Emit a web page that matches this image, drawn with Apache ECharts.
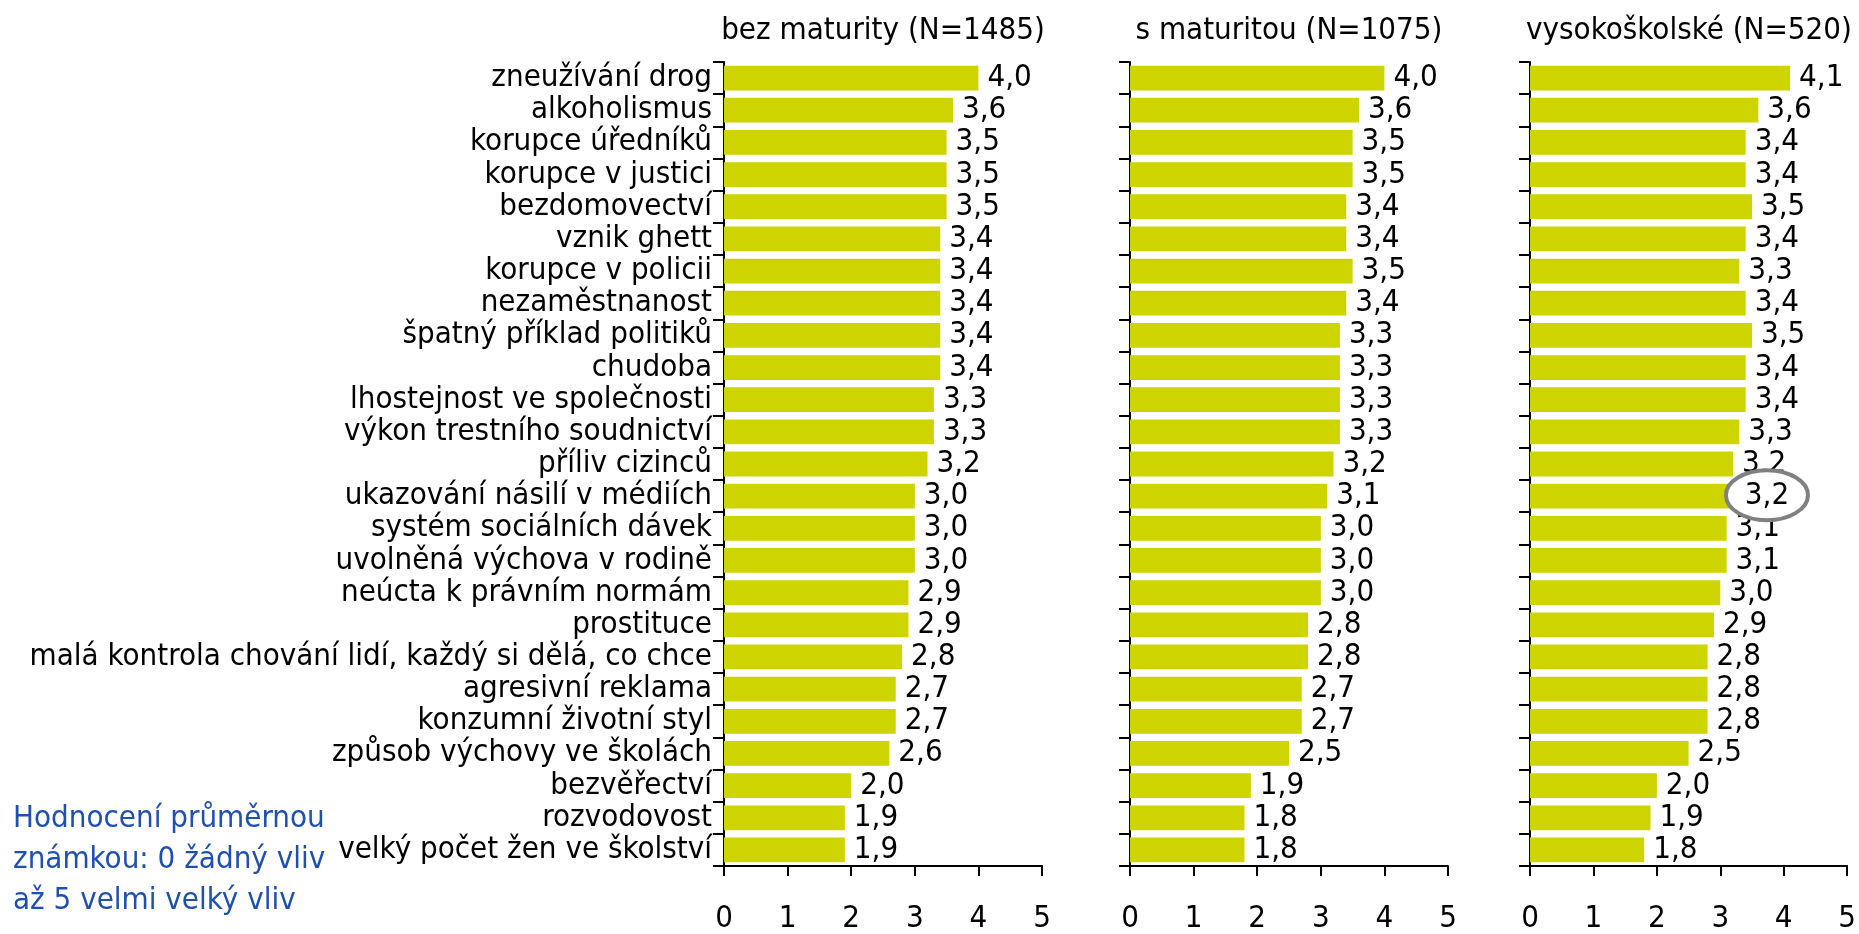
<!DOCTYPE html>
<html>
<head>
<meta charset="utf-8">
<script src="https://cdn.jsdelivr.net/npm/echarts@6/dist/echarts.min.js"></script>
<style>
html, body { margin: 0; padding: 0; background: #fff; }
#chart { width: 1859px; height: 934px; }
</style>
</head>
<body>
<div id="chart"></div>
<script>
// kategorie (shora dolu)
var categories = [
    'zneužívání drog', 'alkoholismus', 'korupce úředníků', 'korupce v justici',
    'bezdomovectví', 'vznik ghett', 'korupce v policii', 'nezaměstnanost',
    'špatný příklad politiků', 'chudoba', 'lhostejnost ve společnosti',
    'výkon trestního soudnictví', 'příliv cizinců', 'ukazování násilí v médiích',
    'systém sociálních dávek', 'uvolněná výchova v rodině', 'neúcta k právním normám',
    'prostituce', 'malá kontrola chování lidí, každý si dělá, co chce',
    'agresivní reklama', 'konzumní životní styl', 'způsob výchovy ve školách',
    'bezvěřectví', 'rozvodovost', 'velký počet žen ve školství'
];
var bezMaturity = [4.0, 3.6, 3.5, 3.5, 3.5, 3.4, 3.4, 3.4, 3.4, 3.4, 3.3, 3.3, 3.2,
    3.0, 3.0, 3.0, 2.9, 2.9, 2.8, 2.7, 2.7, 2.6, 2.0, 1.9, 1.9];
var sMaturitou = [4.0, 3.6, 3.5, 3.5, 3.4, 3.4, 3.5, 3.4, 3.3, 3.3, 3.3, 3.3, 3.2,
    3.1, 3.0, 3.0, 3.0, 2.8, 2.8, 2.7, 2.7, 2.5, 1.9, 1.8, 1.8];
var vysokoskolske = [4.1, 3.6, 3.4, 3.4, 3.5, 3.4, 3.3, 3.4, 3.5, 3.4, 3.4, 3.3, 3.2,
    3.2, 3.1, 3.1, 3.0, 2.9, 2.8, 2.8, 2.8, 2.5, 2.0, 1.9, 1.8];
var groupTitles = ['bez maturity (N=1485)', 's maturitou (N=1075)', 'vysokoškolské (N=520)'];
var valueMin = 0, valueMax = 5, valueStep = 1;
var noteLines = ['Hodnocení průměrnou', 'známkou: 0 žádný vliv', 'až 5 velmi velký vliv'];
var circled = { panel: 2, index: 13 }; // zakrouzkovana hodnota

var FONT = "'DejaVu Sans Condensed', 'Liberation Sans Narrow', 'DejaVu Sans', sans-serif";
var FS = 31;
var BAR = '#cdd400';
var panels = [bezMaturity, sMaturitou, vysokoskolske];
var gridLefts = [724, 1130, 1530];
var gridWidth = 318;
var gridTop = 62, gridHeight = 810;

function fmt(v) {
    return v.toFixed(1).replace('.', ',');
}

var chart = echarts.init(document.getElementById('chart'));

var option = {
    animation: false,
    backgroundColor: '#fff',
    textStyle: { fontFamily: FONT },
    title: [],
    grid: [],
    xAxis: [],
    yAxis: [],
    series: []
};

panels.forEach(function (vals, i) {
    option.title.push({
        text: groupTitles[i],
        left: gridLefts[i] + gridWidth / 2,
        top: 15,
        padding: 0,
        textAlign: 'center',
        textStyle: { fontFamily: FONT, fontSize: FS, fontWeight: 'normal', color: '#000' }
    });
    option.grid.push({
        left: gridLefts[i], top: gridTop, width: gridWidth, height: gridHeight
    });
    option.xAxis.push({
        type: 'value',
        gridIndex: i,
        min: valueMin, max: valueMax, interval: valueStep,
        axisLine: { show: true, lineStyle: { color: '#000', width: 2 } },
        axisTick: { show: true, length: 10, lineStyle: { color: '#000', width: 2 } },
        splitLine: { show: false },
        axisLabel: { fontFamily: FONT, fontSize: FS, color: '#000', margin: 37 }
    });
    option.yAxis.push({
        type: 'category',
        gridIndex: i,
        inverse: true,
        data: categories,
        axisLine: { show: true, lineStyle: { color: '#000', width: 2 } },
        axisTick: { show: true, length: 11, alignWithLabel: false, lineStyle: { color: '#000', width: 2 } },
        axisLabel: { show: i === 0, interval: 0, fontFamily: FONT, fontSize: FS, color: '#000', margin: 12 }
    });
    option.series.push({
        type: 'bar',
        xAxisIndex: i,
        yAxisIndex: i,
        barCategoryGap: '23%',
        itemStyle: { color: BAR },
        label: {
            show: true,
            position: 'right',
            distance: 9,
            fontFamily: FONT,
            fontSize: FS,
            color: '#000',
            formatter: function (p) { return fmt(p.value); }
        },
        data: vals.map(function (v, k) {
            if (i === circled.panel && k === circled.index) {
                return { value: v, label: { show: false } };
            }
            return v;
        })
    });
});

chart.setOption(option);

// poznamka vlevo dole + zakrouzkovana hodnota
var cv = panels[circled.panel][circled.index];
var pt = chart.convertToPixel({ gridIndex: circled.panel }, [cv, circled.index]);
var cx = pt[0] + 34, cy = pt[1];

chart.setOption({
    graphic: [
        {
            type: 'text',
            left: 13,
            top: 798,
            style: {
                text: noteLines.join('\n'),
                fontFamily: FONT,
                fontSize: FS,
                lineHeight: 41,
                fill: '#1f50b0'
            }
        },
        {
            type: 'ellipse',
            z: 10,
            shape: { cx: cx, cy: cy - 1, rx: 41, ry: 25 },
            style: { fill: '#fff', stroke: '#808080', lineWidth: 4 }
        },
        {
            type: 'text',
            z: 11,
            x: cx,
            y: cy,
            style: {
                text: fmt(cv),
                fontFamily: FONT,
                fontSize: FS,
                fill: '#000',
                align: 'center',
                verticalAlign: 'middle'
            }
        }
    ]
});
</script>
</body>
</html>
